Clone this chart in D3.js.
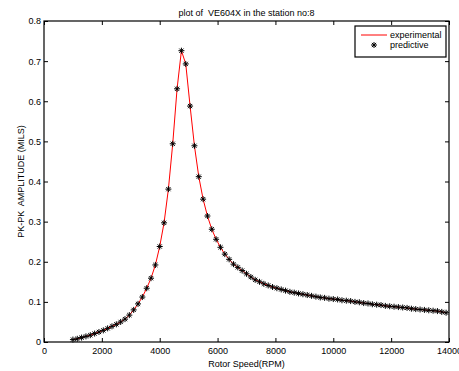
<!DOCTYPE html>
<html>
<head>
<meta charset="utf-8">
<script src="https://cdn.jsdelivr.net/npm/d3@7"></script>
<style>
  body { margin: 0; background: #fff; }
  text { font-family: "Liberation Sans", Arial, sans-serif; white-space: pre; }
</style>
</head>
<body>
<div id="chart"></div>
<script>
// rotor speed samples (RPM)
const rpm = [
  1000, 1150, 1300, 1450, 1600, 1750, 1900, 2050, 2200, 2350,
  2500, 2650, 2800, 2950, 3100, 3250, 3400, 3550, 3700, 3850,
  4000, 4150, 4300, 4450, 4600, 4750, 4900, 5050, 5200, 5350,
  5500, 5650, 5800, 5950, 6100, 6250, 6400, 6550, 6700, 6850,
  7000, 7150, 7300, 7450, 7600, 7750, 7900, 8050, 8200, 8350,
  8500, 8650, 8800, 8950, 9100, 9250, 9400, 9550, 9700, 9850,
  10000, 10150, 10300, 10450, 10600, 10750, 10900, 11050, 11200, 11350,
  11500, 11650, 11800, 11950, 12100, 12250, 12400, 12550, 12700, 12850,
  13000, 13150, 13300, 13450, 13600, 13750, 13900
];

// pk-pk amplitude (mils)
const experimental = [
  0.006, 0.008, 0.011, 0.014, 0.017, 0.021, 0.025, 0.029, 0.034, 0.039,
  0.044, 0.050, 0.057, 0.067, 0.080, 0.095, 0.112, 0.134, 0.159, 0.192,
  0.238, 0.297, 0.381, 0.494, 0.631, 0.726, 0.693, 0.588, 0.489, 0.412,
  0.356, 0.314, 0.281, 0.256, 0.236, 0.219, 0.206, 0.194, 0.186, 0.178,
  0.170, 0.162, 0.155, 0.150, 0.145, 0.141, 0.137, 0.134, 0.131, 0.128,
  0.125, 0.123, 0.121, 0.119, 0.117, 0.115, 0.113, 0.111, 0.110, 0.108,
  0.107, 0.106, 0.104, 0.103, 0.102, 0.100, 0.099, 0.097, 0.096, 0.094,
  0.093, 0.092, 0.090, 0.089, 0.088, 0.087, 0.086, 0.085, 0.083, 0.082,
  0.081, 0.080, 0.079, 0.078, 0.077, 0.075, 0.073
];

// predictive markers sit on the experimental curve
const predictive = [
  0.006, 0.008, 0.011, 0.014, 0.017, 0.021, 0.025, 0.029, 0.034, 0.039,
  0.044, 0.050, 0.057, 0.067, 0.080, 0.095, 0.112, 0.134, 0.159, 0.192,
  0.238, 0.297, 0.381, 0.494, 0.631, 0.726, 0.693, 0.588, 0.489, 0.412,
  0.356, 0.314, 0.281, 0.256, 0.236, 0.219, 0.206, 0.194, 0.186, 0.178,
  0.170, 0.162, 0.155, 0.150, 0.145, 0.141, 0.137, 0.134, 0.131, 0.128,
  0.125, 0.123, 0.121, 0.119, 0.117, 0.115, 0.113, 0.111, 0.110, 0.108,
  0.107, 0.106, 0.104, 0.103, 0.102, 0.100, 0.099, 0.097, 0.096, 0.094,
  0.093, 0.092, 0.090, 0.089, 0.088, 0.087, 0.086, 0.085, 0.083, 0.082,
  0.081, 0.080, 0.079, 0.078, 0.077, 0.075, 0.073
];

const xTicks = [0, 2000, 4000, 6000, 8000, 10000, 12000, 14000];
const yTicks = [0, 0.1, 0.2, 0.3, 0.4, 0.5, 0.6, 0.7, 0.8];

let width = 459;
let height = 371;
let mLeft = 44, mRight = 449, mTop = 21, mBottom = 342;

let svg = d3.select('#chart')
  .append("svg")
  .attr("width", width)
  .attr("height", height);

let x = d3.scaleLinear().domain([0, 14000]).range([mLeft, mRight]);
let y = d3.scaleLinear().domain([0, 0.8]).range([mBottom, mTop]);

// axes, ticks pointing inward like matlab
svg.append("g")
  .attr("transform", "translate(0," + mBottom + ")")
  .call(d3.axisBottom(x).tickValues(xTicks).tickFormat(d3.format("d")).tickSize(-4).tickPadding(6));
svg.append("g")
  .attr("transform", "translate(0," + mTop + ")")
  .call(d3.axisTop(x).tickValues(xTicks).tickFormat("").tickSize(-4));
svg.append("g")
  .attr("transform", "translate(" + mLeft + ",0)")
  .call(d3.axisLeft(y).tickValues(yTicks).tickFormat(d => d === 0 ? "0" : d3.format(".1f")(d)).tickSize(-4).tickPadding(3));
svg.append("g")
  .attr("transform", "translate(" + mRight + ",0)")
  .call(d3.axisRight(y).tickValues(yTicks).tickFormat("").tickSize(-4));

svg.selectAll(".domain").remove();
svg.selectAll(".tick line").attr("stroke", "#000");
svg.selectAll(".tick text").attr("font-size", 9).attr("fill", "#000")
  .attr("font-family", "Liberation Sans, Arial, sans-serif");

svg.append("rect")
  .attr("x", mLeft).attr("y", mTop)
  .attr("width", mRight - mLeft).attr("height", mBottom - mTop)
  .attr("fill", "none").attr("stroke", "#000").attr("stroke-width", 1.2);

// experimental line
let line = d3.line()
  .x((d, i) => x(rpm[i]))
  .y(d => y(d));

svg.append("path")
  .datum(experimental)
  .attr("d", line)
  .attr("fill", "none")
  .attr("stroke", "#ff0000")
  .attr("stroke-width", 1);

// asterisk marker
function star(g, s) {
  g.append("line").attr("x1", -s).attr("x2", s).attr("y1", 0).attr("y2", 0);
  g.append("line").attr("x1", 0).attr("x2", 0).attr("y1", -s).attr("y2", s);
  g.append("line").attr("x1", -s * 0.7).attr("x2", s * 0.7).attr("y1", -s * 0.7).attr("y2", s * 0.7);
  g.append("line").attr("x1", -s * 0.7).attr("x2", s * 0.7).attr("y1", s * 0.7).attr("y2", -s * 0.7);
}

svg.selectAll(".pt")
  .data(predictive)
  .enter()
  .append("g")
  .attr("class", "pt")
  .attr("transform", (d, i) => "translate(" + x(rpm[i]) + "," + y(d) + ")")
  .attr("stroke", "#000")
  .attr("stroke-width", 1)
  .each(function () { star(d3.select(this), 3); });

// title and labels
svg.append("text")
  .attr("x", (mLeft + mRight) / 2).attr("y", 16)
  .attr("text-anchor", "middle").attr("font-size", 9)
  .text("plot of  VE604X in the station no:8");

svg.append("text")
  .attr("x", (mLeft + mRight) / 2).attr("y", 367)
  .attr("text-anchor", "middle").attr("font-size", 9)
  .text("Rotor Speed(RPM)");

svg.append("text")
  .attr("transform", "translate(24," + ((mTop + mBottom) / 2) + ") rotate(-90)")
  .attr("text-anchor", "middle").attr("font-size", 9)
  .text("PK-PK  AMPLITUDE (MILS)");

// legend
let lg = svg.append("g");
lg.append("rect")
  .attr("x", 355).attr("y", 26).attr("width", 91).attr("height", 31)
  .attr("fill", "#fff").attr("stroke", "#000").attr("stroke-width", 1.2);
lg.append("line")
  .attr("x1", 361).attr("x2", 387).attr("y1", 35).attr("y2", 35)
  .attr("stroke", "#ff0000").attr("stroke-width", 1);
lg.append("text").attr("x", 390).attr("y", 38).attr("font-size", 9).text("experimental");
let lm = lg.append("g")
  .attr("transform", "translate(374,45)")
  .attr("stroke", "#000").attr("stroke-width", 1);
star(lm, 3);
lg.append("text").attr("x", 390).attr("y", 48).attr("font-size", 9).text("predictive");
</script>
</body>
</html>
